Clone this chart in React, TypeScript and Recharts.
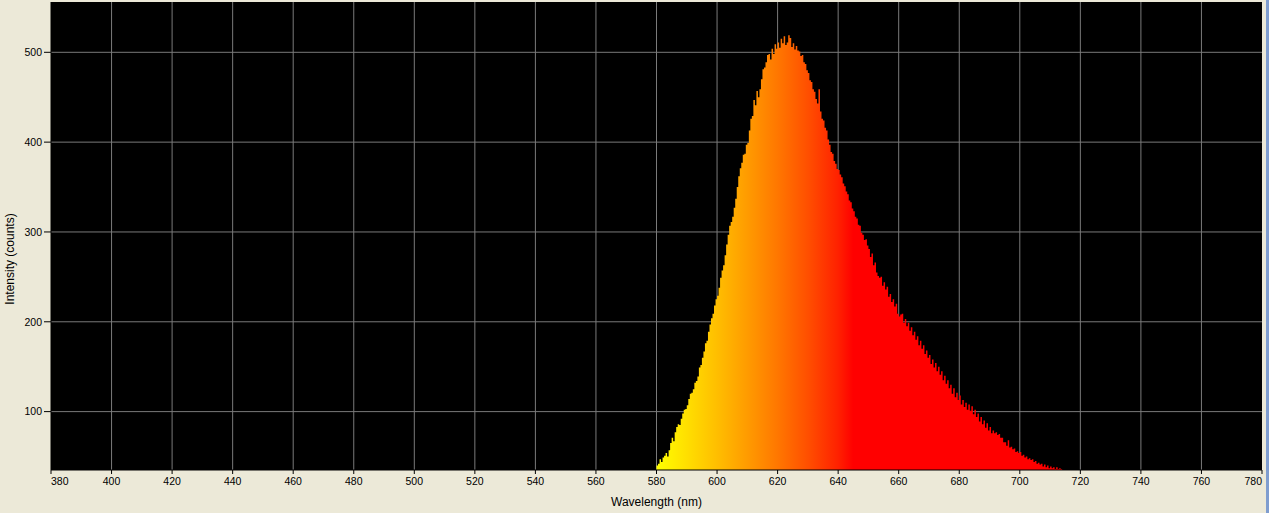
import React from 'react';
import { AreaChart, Area, XAxis, YAxis, CartesianGrid, Label } from 'recharts';

// Spectrum sampled every 0.5 nm starting at 580 nm
const startNm = 580;
const stepNm = 0.5;
const counts: number[] = [
  40, 42, 47, 44, 49, 51, 54, 50, 57, 65, 71, 67, 77, 83, 86, 85, 92, 98, 102, 103,
  107, 114, 120, 121, 125, 132, 134, 139, 149, 152, 160, 167, 176, 179, 189, 197, 204, 209, 218, 225,
  229, 238, 249, 257, 263, 274, 286, 297, 307, 311, 317, 327, 337, 350, 362, 371, 377, 386, 387, 397,
  399, 413, 426, 429, 447, 441, 457, 450, 459, 470, 481, 483, 489, 497, 498, 492, 504, 498, 509, 504,
  511, 505, 515, 510, 518, 508, 511, 519, 516, 506, 510, 503, 507, 502, 501, 496, 497, 489, 487, 480,
  477, 469, 467, 459, 456, 448, 443, 459, 434, 426, 424, 416, 413, 403, 397, 389, 387, 379, 376, 370,
  369, 364, 361, 354, 351, 345, 342, 335, 333, 326, 323, 317, 315, 308, 307, 299, 297, 291, 292, 285,
  281, 272, 276, 263, 266, 255, 251, 249, 250, 240, 244, 236, 239, 228, 231, 222, 225, 217, 220, 209,
  206, 208, 209, 199, 203, 195, 199, 190, 194, 185, 189, 180, 184, 174, 179, 170, 174, 164, 168, 160,
  163, 153, 158, 149, 154, 145, 150, 141, 145, 135, 140, 131, 135, 126, 130, 120, 126, 116, 121, 113,
  118, 108, 113, 105, 110, 102, 108, 101, 106, 97, 102, 94, 98, 89, 94, 86, 90, 82, 87, 79,
  83, 76, 79, 76, 77, 74, 75, 71, 71, 66, 66, 62, 68, 60, 61, 58, 59, 55, 56, 54,
  55, 51, 52, 49, 50, 47, 48, 46, 47, 44, 45, 42, 43, 41, 42, 39, 41, 38, 40, 37,
  39, 37, 38, 36, 38, 36, 37, 36, 37,
];

const xTicks = [380, 400, 420, 440, 460, 480, 500, 520, 540, 560, 580, 600, 620, 640, 660, 680, 700, 720, 740, 760, 780];
const yTicks = [100, 200, 300, 400, 500];
const xDomain: [number, number] = [380, 780];
const yDomain: [number, number] = [35, 556];
const gridXValues = xTicks.slice(1, -1);

// wavelength -> colour stops (visible spectrum rendering)
const colorStopsNm = [580, 590, 600, 610, 620, 630, 640, 645];
const colorStopsHex = ['#FFFF00', '#FFDF00', '#FFBE00', '#FF9B00', '#FF7700', '#FF4F00', '#FF2100', '#FF0000'];

const data = counts.map((c, i) => ({ wl: startNm + i * stepNm, counts: c }));

const font = '"Liberation Sans", Arial, sans-serif';

const XTick = (props: any) => {
  const { x, y, payload } = props;
  const v = payload.value;
  const anchor = v === xDomain[0] ? 'start' : v === xDomain[1] ? 'end' : 'middle';
  return (
    <text x={x} y={y} dy="0.71em" textAnchor={anchor} fontSize={10.5} fontFamily={font} fill="#000">
      {v}
    </text>
  );
};

const YTick = (props: any) => {
  const { x, y, payload } = props;
  return (
    <text x={x} y={y} dy="0.355em" textAnchor="end" fontSize={10.5} fontFamily={font} fill="#000">
      {payload.value}
    </text>
  );
};

export default function App() {
  const first = data[0].wl;
  const last = data[data.length - 1].wl;
  return (
    <div style={{ position: 'absolute', left: 0, top: 0, width: 1269, height: 513, background: '#ECE9D8', overflow: 'hidden' }}>
      <AreaChart width={1269} height={513} data={data} margin={{ top: 2, right: 7, bottom: 0, left: 0 }}>
        <defs>
          <linearGradient id="spec" x1="0" y1="0" x2="1" y2="0">
            {colorStopsNm.map((nm, i) => (
              <stop key={nm} offset={(nm - first) / (last - first)} stopColor={colorStopsHex[i]} />
            ))}
          </linearGradient>
        </defs>
        <CartesianGrid
          stroke="#7a7a7a"
          strokeWidth={1}
          fill="#000000"
          fillOpacity={1}
          verticalValues={gridXValues}
          horizontalValues={yTicks}
        />
        <XAxis
          dataKey="wl"
          type="number"
          domain={xDomain}
          ticks={xTicks}
          allowDataOverflow
          height={43}
          tickSize={4}
          tickMargin={4}
          stroke="#000"
          tickLine={{ stroke: '#000' }}
          axisLine={{ stroke: '#000' }}
          tick={<XTick />}
          interval={0}
        >
          <Label
            content={(p: any) => {
              const vb = p.viewBox;
              return (
                <text x={vb.x + vb.width / 2} y={502} textAnchor="middle" dominantBaseline="central" fontSize={12} fontFamily={font} fill="#000">
                  Wavelength (nm)
                </text>
              );
            }}
          />
        </XAxis>
        <YAxis
          type="number"
          domain={yDomain}
          ticks={yTicks}
          allowDataOverflow
          width={51}
          tickSize={7}
          tickMargin={2}
          stroke="#000"
          tickLine={{ stroke: '#000' }}
          axisLine={{ stroke: '#000' }}
          tick={<YTick />}
          interval={0}
        >
          <Label
            content={(p: any) => {
              const vb = p.viewBox;
              const cx = vb.x + 9.5;
              const cy = vb.y + vb.height / 2 + 23;
              return (
                <text x={cx} y={cy} transform={`rotate(-90, ${cx}, ${cy})`} textAnchor="middle" dominantBaseline="central" fontSize={12} fontFamily={font} fill="#000">
                  Intensity (counts)
                </text>
              );
            }}
          />
        </YAxis>
        <Area
          dataKey="counts"
          type="stepAfter"
          stroke="none"
          fill="url(#spec)"
          fillOpacity={1}
          isAnimationActive={false}
          dot={false}
          activeDot={false}
        />
      </AreaChart>
      <div style={{ position: 'absolute', right: 0, top: 0, width: 3, height: 513, background: '#7F9DCF' }} />
    </div>
  );
}
